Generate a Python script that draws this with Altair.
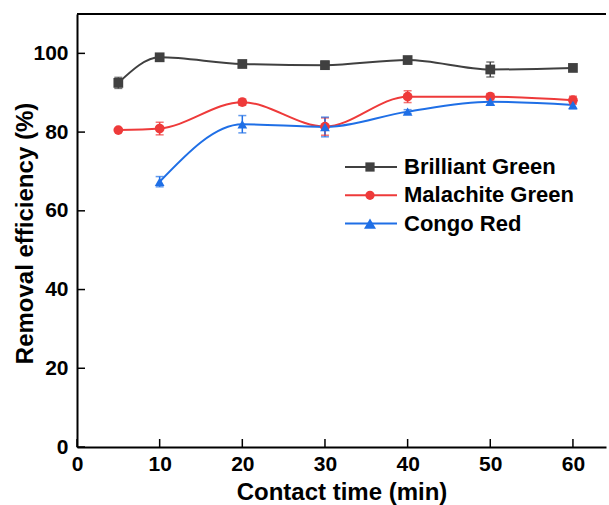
import altair as alt
import pandas as pd

# ---- data ----
series_names = ["Brilliant Green", "Malachite Green", "Congo Red"]
series_colors = ["#404040", "#ee3a3a", "#1f6fe6"]
series_shapes = ["square", "circle", "triangle-up"]
series_sizes = [95, 95, 160]

bg_time = [5, 10, 20, 30, 40, 50, 60]
bg_val = [92.5, 99.0, 97.3, 97.0, 98.3, 95.9, 96.3]
bg_err = [1.4, 0.5, 0.6, 1.0, 0.5, 1.9, 0.5]

mg_time = [5, 10, 20, 30, 40, 50, 60]
mg_val = [80.5, 80.9, 87.6, 81.4, 89.0, 89.0, 88.1]
mg_err = [0.3, 1.6, 0.8, 2.2, 1.5, 0.8, 1.0]

cr_time = [10, 20, 30, 40, 50, 60]
cr_val = [67.4, 82.0, 81.3, 85.2, 87.7, 86.9]
cr_err = [1.3, 2.2, 2.5, 0.5, 0.8, 1.0]

x_ticks = [0, 10, 20, 30, 40, 50, 60]
y_ticks = [0, 20, 40, 60, 80, 100]

X_MAX = 64
Y_MAX = 110
W, H = 529, 433
FONT = "Liberation Sans"

rows = []
for name, ts, vs, es in [
    (series_names[0], bg_time, bg_val, bg_err),
    (series_names[1], mg_time, mg_val, mg_err),
    (series_names[2], cr_time, cr_val, cr_err),
]:
    for t, v, e in zip(ts, vs, es):
        rows.append({"series": name, "time": t, "value": v, "lo": v - e, "hi": v + e})
df = pd.DataFrame(rows)

xscale = alt.Scale(domain=[0, X_MAX], nice=False, zero=False)
yscale = alt.Scale(domain=[0, Y_MAX], nice=False)
cscale = alt.Scale(domain=series_names, range=series_colors)
sscale = alt.Scale(domain=series_names, range=series_shapes)
zscale = alt.Scale(domain=series_names, range=series_sizes)

x_enc = alt.X(
    "time:Q",
    scale=xscale,
    axis=alt.Axis(
        title="Contact time (min)",
        values=x_ticks,
        ticks=False,
        tickSize=0,
        labelPadding=6,
        labelFlush=False,
        titleBaseline="alphabetic",
        titleY=52,
    ),
)
y_enc = alt.Y(
    "value:Q",
    scale=yscale,
    axis=alt.Axis(
        title="Removal efficiency (%)",
        values=y_ticks,
        ticks=False,
        tickSize=0,
        labelPadding=9,
        labelFlush=False,
        titleX=-52,
        titleY=219,
        titleBaseline="middle",
    ),
)
color_enc = alt.Color("series:N", scale=cscale, legend=None)

base = alt.Chart(df)

lines = base.mark_line(interpolate="monotone", strokeWidth=2).encode(
    x=x_enc, y=y_enc, color=color_enc, detail="series:N"
)

err_rule = base.mark_rule(strokeWidth=1.5).encode(
    x="time:Q", y="lo:Q", y2="hi:Q", color=color_enc
)
cap_lo = base.mark_tick(orient="horizontal", size=8, thickness=1.5).encode(
    x="time:Q", y="lo:Q", color=color_enc
)
cap_hi = base.mark_tick(orient="horizontal", size=8, thickness=1.5).encode(
    x="time:Q", y="hi:Q", color=color_enc
)

points = base.mark_point(filled=True, opacity=1).encode(
    x="time:Q",
    y="value:Q",
    color=color_enc,
    shape=alt.Shape("series:N", scale=sscale, legend=None),
    size=alt.Size("series:N", scale=zscale, legend=None),
)

# inward ticks
ytick_df = pd.DataFrame({"v": y_ticks})
xtick_df = pd.DataFrame({"t": x_ticks})
yticks = alt.Chart(ytick_df).mark_rule(color="black", strokeWidth=1.5).encode(
    y=alt.Y("v:Q", scale=yscale), x=alt.value(0), x2=alt.value(8)
)
xticks = alt.Chart(xtick_df).mark_rule(color="black", strokeWidth=1.5).encode(
    x=alt.X("t:Q", scale=xscale), y=alt.value(H), y2=alt.value(H - 8)
)

# top frame line
frame_df = pd.DataFrame({"top": [Y_MAX]})
top_frame = alt.Chart(frame_df).mark_rule(color="black", strokeWidth=2).encode(
    y=alt.Y("top:Q", scale=yscale)
)

# custom legend (line + marker + label)
legend_layers = []
for i, (name, col, shp, sz) in enumerate(
    zip(series_names, series_colors, series_shapes, series_sizes)
):
    ldf = pd.DataFrame({"series": [name]})
    yy = 153 + i * 28.3
    legend_layers.append(
        alt.Chart(ldf).mark_rule(color=col, strokeWidth=2).encode(
            x=alt.value(268), x2=alt.value(320), y=alt.value(yy)
        )
    )
    legend_layers.append(
        alt.Chart(ldf).mark_point(shape=shp, filled=True, opacity=1, size=sz * 0.9, color=col).encode(
            x=alt.value(293), y=alt.value(yy)
        )
    )
    legend_layers.append(
        alt.Chart(ldf).mark_text(
            align="left", baseline="middle", font=FONT, fontSize=22, fontWeight="bold", color="black"
        ).encode(x=alt.value(327), y=alt.value(yy), text="series:N")
    )

chart = (
    alt.layer(lines, err_rule, cap_lo, cap_hi, points, yticks, xticks, top_frame, *legend_layers)
    .properties(
        width=W,
        height=H,
        autosize=alt.AutoSizeParams(type="none"),
        padding={"left": 77, "top": 14, "right": 3, "bottom": 58},
        background="white",
    )
    .configure_view(stroke=None)
    .configure_axis(
        grid=False,
        domainColor="black",
        domainWidth=2,
        labelFont=FONT,
        labelFontSize=21,
        labelFontWeight="bold",
        labelColor="black",
        titleFont=FONT,
        titleFontSize=24,
        titleFontWeight="bold",
        titleColor="black",
    )
)

chart.save("out.html", embed_options={"renderer": "svg", "actions": False})
